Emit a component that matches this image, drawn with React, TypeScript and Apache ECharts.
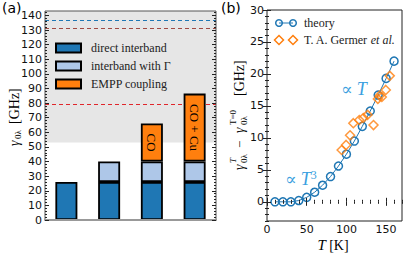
import { useEffect, useRef } from "react";
import * as echarts from "echarts";

// ---------- panel (a) data ----------
const barCategories = ["bulk", "with Γ", "CO", "CO + Cu"];
const directInterband = [26, 26, 26, 26];
const interbandGamma: (number | string)[] = ["-", 14, 14, 14];
const emppCoupling: (number | string)[] = ["-", "-", 26, 46.5];
const emppLabels = ["", "", "CO", "CO + Cu"];
const shadedBand = [53, 143];
const refLineValues = [137, 131.5, 79.5];
const refLineColors = ["#1f77b4", "#a04a42", "#e0262b"];
const leftYTickLabels = [0, 10, 20, 30, 40, 50, 60, 70, 80, 90, 100, 110, 120, 130, 140];

// ---------- panel (b) data ----------
const theoryT = [10, 20, 30, 40, 50, 60, 70, 80, 90, 100, 110, 120, 130, 140, 150, 160];
const theoryVal = [0, 0, 0, 0.2, 0.7, 1.5, 2.6, 3.95, 5.6, 7.45, 9.5, 11.8, 14.2, 16.7, 19.3, 22.0];
const germerT = [94, 99.6, 104.6, 108.7, 116.2, 121.2, 126.6, 134.1, 139.6, 141.8, 144.6, 149.6, 154.6];
const germerVal = [8.1, 8.9, 10.4, 12.3, 12.8, 13.1, 13.6, 12.0, 16.1, 16.6, 16.4, 17.5, 19.7];
const rightXTickLabels = [0, 50, 100, 150];
const rightYTickLabels = [0, 5, 10, 15, 20, 25, 30];

const SERIF = "'Liberation Serif', 'DejaVu Serif', serif";
const SANS = "'DejaVu Sans', sans-serif";
const ANNOT = "#3b9fe0";

function minorTicks(min: number, max: number, step: number, major: number) {
  const out: number[] = [];
  for (let v = min; v <= max + 1e-9; v += step) {
    const r = Math.round(v * 1000) / 1000;
    if (Math.abs(r / major - Math.round(r / major)) > 1e-6) out.push(r);
  }
  return out;
}

function tickAxis(
  gridIndex: number,
  position: string,
  min: number,
  max: number,
  ticks: number[],
  len: number,
  labels?: number[]
) {
  return {
    type: "value",
    gridIndex,
    position,
    min,
    max,
    z: 5,
    axisLine: { show: false },
    splitLine: { show: false },
    axisTick: {
      show: true,
      inside: true,
      length: len,
      customValues: ticks,
      lineStyle: { color: "#222", width: 1 },
    },
    axisLabel: labels
      ? { show: true, customValues: labels, margin: 3, fontFamily: SANS, fontSize: 11, color: "#111" }
      : { show: false },
  };
}

export default function App() {
  const ref = useRef<HTMLDivElement>(null);
  useEffect(() => {
    if (!ref.current) return;
    const chart = echarts.init(ref.current, undefined, { renderer: "svg" });

    const leftMinor = minorTicks(0, 142, 2, 10);
    const rightXMinor = minorTicks(0, 170, 10, 50);
    const rightYMinor = minorTicks(-3, 30, 1, 5);

    const barBorder = { borderColor: "#000", borderWidth: 1.8 };

    const option: any = {
      animation: false,
      backgroundColor: "#fff",
      grid: [
        { left: 45, top: 11, width: 171, height: 209, show: true, borderColor: "#555", borderWidth: 1, backgroundColor: "transparent", z: 4 },
        { left: 267, top: 10, width: 135, height: 211, show: true, borderColor: "#222", borderWidth: 1, backgroundColor: "transparent", z: 4 },
      ],
      legend: {
        data: ["direct interband", "interband with Γ", "EMPP coupling"],
        orient: "vertical",
        left: 55,
        top: 41,
        padding: 0,
        icon: "rect",
        itemWidth: 25,
        itemHeight: 9,
        itemGap: 4,
        textStyle: { fontFamily: SERIF, fontSize: 12, lineHeight: 14, color: "#222", padding: [0, 0, 0, 5] },
        z: 6,
      },
      xAxis: [
        {
          type: "category",
          gridIndex: 0,
          data: barCategories,
          z: 5,
          axisLine: { show: true, lineStyle: { color: "#999", width: 2 } },
          axisTick: { show: false },
          axisLabel: { show: false },
          splitLine: { show: false },
        },
        tickAxis(1, "bottom", 0, 170, rightXTickLabels, 4, rightXTickLabels),
        tickAxis(1, "bottom", 0, 170, rightXMinor, 2),
        tickAxis(1, "top", 0, 170, rightXTickLabels, 4),
        tickAxis(1, "top", 0, 170, rightXMinor, 2),
      ],
      yAxis: [
        tickAxis(0, "left", 0, 143, leftYTickLabels, 4, leftYTickLabels),
        tickAxis(0, "left", 0, 143, leftMinor, 2),
        tickAxis(0, "right", 0, 143, leftYTickLabels, 4),
        tickAxis(0, "right", 0, 143, leftMinor, 2),
        tickAxis(1, "left", -3, 30, rightYTickLabels, 4, rightYTickLabels),
        tickAxis(1, "left", -3, 30, rightYMinor, 2),
        tickAxis(1, "right", -3, 30, rightYTickLabels, 4),
        tickAxis(1, "right", -3, 30, rightYMinor, 2),
      ],
      series: [
        {
          type: "line",
          name: "helper",
          xAxisIndex: 0,
          yAxisIndex: 0,
          data: [],
          z: 1,
          markArea: {
            silent: true,
            z: 1,
            itemStyle: { color: "#e6e6e6" },
            data: [[{ yAxis: shadedBand[0] }, { yAxis: shadedBand[1] }]],
          },
          markLine: {
            silent: true,
            z: 1.5,
            symbol: "none",
            label: { show: false },
            data: refLineValues.map((v, i) => ({
              yAxis: v,
              lineStyle: { color: refLineColors[i], type: [4, 3], width: 1.2 },
            })),
          },
        },
        {
          type: "bar",
          name: "direct interband",
          stack: "g",
          xAxisIndex: 0,
          yAxisIndex: 0,
          barWidth: 22,
          z: 2,
          itemStyle: { color: "#1f77b4", ...barBorder },
          data: directInterband,
        },
        {
          type: "bar",
          name: "interband with Γ",
          stack: "g",
          xAxisIndex: 0,
          yAxisIndex: 0,
          barWidth: 22,
          z: 2,
          itemStyle: { color: "#aec7e8", ...barBorder },
          data: interbandGamma,
        },
        {
          type: "bar",
          name: "EMPP coupling",
          stack: "g",
          xAxisIndex: 0,
          yAxisIndex: 0,
          barWidth: 22,
          z: 2,
          itemStyle: { color: "#ff7f0e", ...barBorder },
          label: {
            show: true,
            position: "inside",
            rotate: -90,
            fontFamily: SERIF,
            fontSize: 13,
            color: "#000",
            formatter: (p: any) => emppLabels[p.dataIndex],
          },
          data: emppCoupling,
        },
        {
          type: "line",
          name: "theory",
          xAxisIndex: 1,
          yAxisIndex: 4,
          symbol: "circle",
          symbolSize: 8,
          z: 3,
          lineStyle: { color: "#1f77b4", width: 1 },
          itemStyle: { color: "rgba(255,255,255,0)", borderColor: "#1f77b4", borderWidth: 1.5 },
          data: theoryT.map((t, i) => [t, theoryVal[i]]),
        },
        {
          type: "scatter",
          name: "T. A. Germer et al.",
          xAxisIndex: 1,
          yAxisIndex: 4,
          symbol: "diamond",
          symbolSize: 9,
          z: 3,
          itemStyle: { color: "rgba(255,255,255,0)", borderColor: "#ff7f0e", borderWidth: 1.5 },
          data: germerT.map((t, i) => [t, germerVal[i]]),
        },
      ],
      graphic: [
        { type: "text", x: 2, y: 8, style: { text: "(a)", fontFamily: SANS, fontSize: 14, fill: "#000", verticalAlign: "middle" } },
        { type: "text", x: 221, y: 8, style: { text: "(b)", fontFamily: SANS, fontSize: 14, fill: "#000", verticalAlign: "middle" } },
        // left y label
        {
          type: "group",
          x: 14,
          y: 116,
          rotation: Math.PI / 2,
          children: [
            { type: "text", x: -30, y: 0, style: { text: "γ", fontFamily: SERIF, fontStyle: "italic", fontSize: 14, fill: "#000", verticalAlign: "middle" } },
            { type: "text", x: -23, y: 4, style: { text: "0λ", fontFamily: SERIF, fontSize: 9, fill: "#000", verticalAlign: "middle" } },
            { type: "text", x: -8, y: 0, style: { text: "[GHz]", fontFamily: SERIF, fontSize: 14, fill: "#000", verticalAlign: "middle" } },
          ],
        },
        // right y label
        {
          type: "group",
          x: 239,
          y: 116,
          rotation: Math.PI / 2,
          children: [
            { type: "text", x: -54, y: 0, style: { text: "γ", fontFamily: SERIF, fontStyle: "italic", fontSize: 14, fill: "#000", verticalAlign: "middle" } },
            { type: "text", x: -47, y: -6, style: { text: "T", fontFamily: SERIF, fontStyle: "italic", fontSize: 9, fill: "#000", verticalAlign: "middle" } },
            { type: "text", x: -47, y: 5, style: { text: "0λ", fontFamily: SERIF, fontSize: 9, fill: "#000", verticalAlign: "middle" } },
            { type: "text", x: -32, y: 0, style: { text: "−", fontFamily: SERIF, fontSize: 13, fill: "#000", verticalAlign: "middle" } },
            { type: "text", x: -17, y: 0, style: { text: "γ", fontFamily: SERIF, fontStyle: "italic", fontSize: 14, fill: "#000", verticalAlign: "middle" } },
            { type: "text", x: -9, y: -6, style: { text: "T=0", fontFamily: SERIF, fontSize: 9, fill: "#000", verticalAlign: "middle" } },
            { type: "text", x: -9, y: 5, style: { text: "0λ", fontFamily: SERIF, fontSize: 9, fill: "#000", verticalAlign: "middle" } },
            { type: "text", x: 20, y: 0, style: { text: "[GHz]", fontFamily: SERIF, fontSize: 14, fill: "#000", verticalAlign: "middle" } },
          ],
        },
        // x label (b)
        {
          type: "text",
          x: 333,
          y: 245,
          style: {
            text: "{i|T} {n|[K]}",
            align: "center",
            verticalAlign: "middle",
            rich: {
              i: { fontFamily: SERIF, fontStyle: "italic", fontSize: 15, fill: "#000" },
              n: { fontFamily: SERIF, fontSize: 14, fill: "#000" },
            },
          },
        },
        // annotations
        {
          type: "text",
          x: 341,
          y: 89,
          style: {
            text: "{n|∝ }{i|T}",
            verticalAlign: "middle",
            rich: {
              n: { fontFamily: SERIF, fontSize: 17, fill: ANNOT, lineHeight: 20 },
              i: { fontFamily: SERIF, fontStyle: "italic", fontSize: 18, fill: ANNOT, lineHeight: 20 },
            },
          },
        },
        {
          type: "text",
          x: 285,
          y: 179,
          style: {
            text: "{n|∝ }{i|T}{s|3}",
            verticalAlign: "middle",
            rich: {
              n: { fontFamily: SERIF, fontSize: 17, fill: ANNOT, lineHeight: 20 },
              i: { fontFamily: SERIF, fontStyle: "italic", fontSize: 18, fill: ANNOT, lineHeight: 20 },
              s: { fontFamily: SERIF, fontSize: 12, fill: ANNOT, lineHeight: 20, verticalAlign: "top" },
            },
          },
        },
        // legend (b)
        { type: "line", shape: { x1: 279, y1: 23, x2: 293, y2: 23 }, style: { stroke: "#1f77b4", lineWidth: 1 } },
        { type: "circle", shape: { cx: 279, cy: 23, r: 3.3 }, style: { stroke: "#1f77b4", fill: "none", lineWidth: 1.5 } },
        { type: "circle", shape: { cx: 293, cy: 23, r: 3.3 }, style: { stroke: "#1f77b4", fill: "none", lineWidth: 1.5 } },
        { type: "polygon", shape: { points: [[279, 35.5], [283.5, 40], [279, 44.5], [274.5, 40]] }, style: { stroke: "#ff7f0e", fill: "none", lineWidth: 1.5 } },
        { type: "polygon", shape: { points: [[293, 35.5], [297.5, 40], [293, 44.5], [288.5, 40]] }, style: { stroke: "#ff7f0e", fill: "none", lineWidth: 1.5 } },
        { type: "text", x: 304, y: 23, style: { text: "theory", fontFamily: SERIF, fontSize: 12, fill: "#222", verticalAlign: "middle" } },
        {
          type: "text",
          x: 304,
          y: 40,
          style: {
            text: "{n|T. A. Germer }{i|et al.}",
            verticalAlign: "middle",
            rich: {
              n: { fontFamily: SERIF, fontSize: 12, fill: "#222" },
              i: { fontFamily: SERIF, fontStyle: "italic", fontSize: 12, fill: "#222" },
            },
          },
        },
      ],
    };

    chart.setOption(option);
    return () => chart.dispose();
  }, []);

  return (
    <div
      ref={ref}
      style={{ position: "absolute", left: 0, top: 0, width: 415, height: 254 }}
    />
  );
}
